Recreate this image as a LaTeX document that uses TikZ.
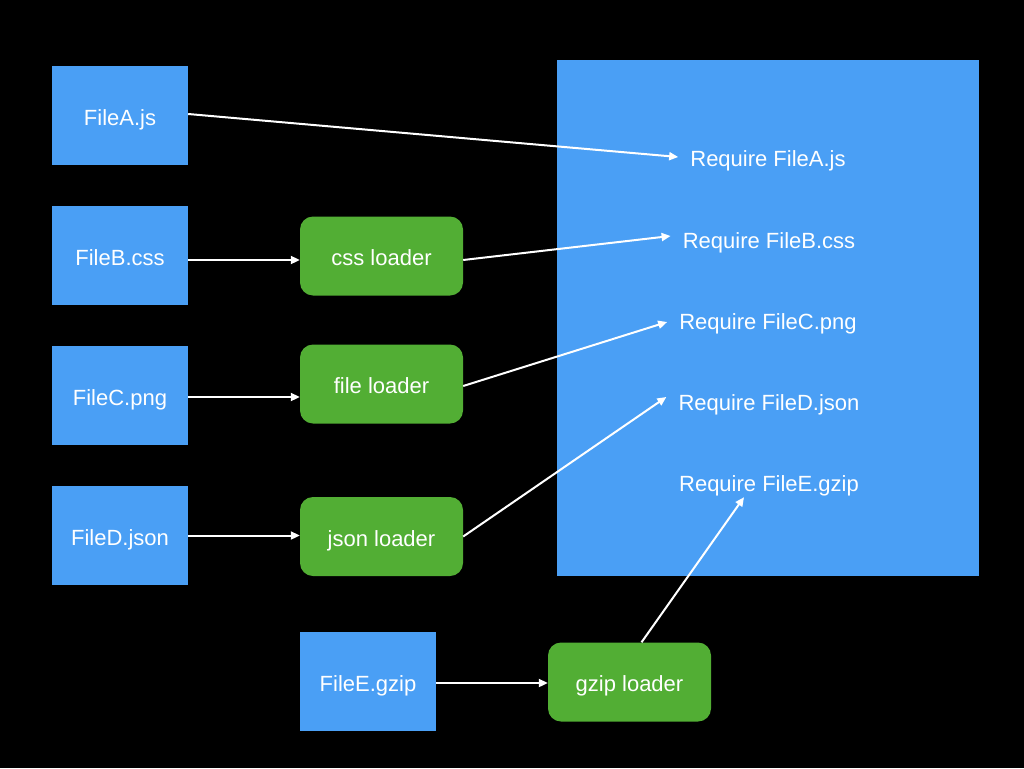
\documentclass[tikz,border=0pt]{standalone}
\usepackage{fontspec}
\setmainfont{Liberation Sans}
\usetikzlibrary{arrows.meta}
\definecolor{fileblue}{RGB}{74,159,245}
\definecolor{loadergreen}{RGB}{82,174,52}

\begin{document}
\begin{tikzpicture}[x=1pt, y=-1pt,
        every node/.style={text=white, font=\fontsize{22}{26}\selectfont, text height=20pt, text depth=1pt},
        src/.style={fill=fileblue, minimum width=136pt, minimum height=99pt, inner sep=0pt},
        loader/.style={fill=loadergreen, rounded corners=13pt, minimum width=163pt, minimum height=79pt, inner sep=0pt},
        req/.style={inner sep=12pt},
        link/.style={draw=white, line width=2pt, -{Triangle[length=9pt,width=8pt]}}]
        % background
        \fill[black] (0,0) rectangle (1024,768);
        \fill[fileblue] (557,60) rectangle (979,576);

        % Define the nodes
        \node[src] (A) at (120,115.5) {FileA.js};
        \node[src] (B) at (120,255.5) {FileB.css};
        \node[src] (C) at (120,395.5) {FileC.png};
        \node[src] (D) at (120,535.5) {FileD.json};
        \node[src] (E) at (368,681.5) {FileE.gzip};

        \node[loader] (LB) at (381.5,256) {css loader};
        \node[loader] (LC) at (381.5,384) {file loader};
        \node[loader] (LD) at (381.5,536.5) {json loader};
        \node[loader] (LE) at (629.5,682) {gzip loader};

        \node[req] (RA) at (768,157) {Require FileA.js};
        \node[req] (RB) at (769,239) {Require FileB.css};
        \node[req] (RC) at (768,320) {Require FileC.png};
        \node[req] (RD) at (769,401) {Require FileD.json};
        \node[req] (RE) at (769,482) {Require FileE.gzip};

        \begin{scope}[every node/.style={auto, draw=none}]
        \draw[link] ([yshift=1.5pt]A.east) -- (RA.west);
        \draw[link] ([yshift=-4.5pt]B.east) -- ([yshift=-4.5pt]B.east -| LB.west);
        \draw[link] ([yshift=-4pt]LB.east) -- ([yshift=3pt]RB.west);
        \draw[link] ([yshift=-1.5pt]C.east) -- ([yshift=-1.5pt]C.east -| LC.west);
        \draw[link] ([yshift=-2pt]LC.east) -- ([yshift=-2pt]RC.west);
        \draw[link] (D.east) -- (D.east -| LD.west);
        \draw[link] (LD.east) -- ([yshift=4pt]RD.west);
        \draw[link] ([yshift=-1.5pt]E.east) -- ([yshift=-1.5pt]E.east -| LE.west);
        \draw[link] ([xshift=12pt]LE.north) -- ([xshift=-25pt,yshift=7.5pt]RE.south);
        \end{scope}
    \end{tikzpicture}
\end{document}
